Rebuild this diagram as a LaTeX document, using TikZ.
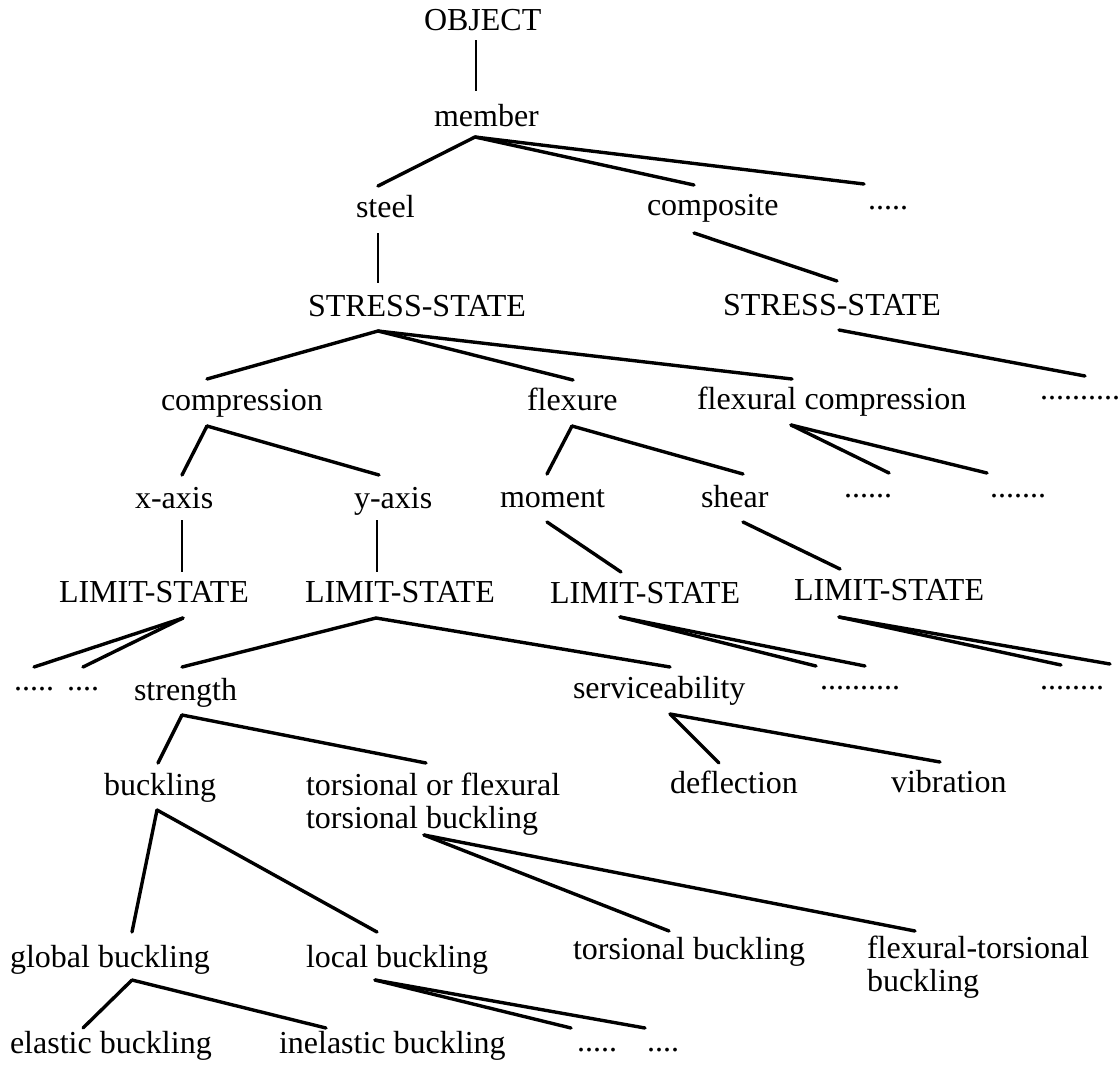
\documentclass[tikz,border=0pt]{standalone}
\usepackage{fontspec}
\setmainfont{Liberation Serif}
\begin{document}
\begin{tikzpicture}[x=1pt,y=-1pt,
  lbl/.style={inner sep=0pt, outer sep=0pt, anchor=base west,
              font=\fontsize{32}{33}\selectfont},
  branch/.style={line width=3.4pt, line cap=round},
  stem/.style={line width=2.5pt}]
\useasboundingbox (0,0) rectangle (1119,1066);

% ---------- labels (left edge, baseline) ----------
\node[lbl] (object)      at (424,30)   {OBJECT};
\node[lbl] (member)      at (434,126)  {member};
\node[lbl] (steel)       at (356,217)  {steel};
\node[lbl] (composite)   at (647,215)  {composite};
\node[lbl] (dotsA)       at (868,209)  {.....};
\node[lbl] (ssA)         at (308,316)  {STRESS-STATE};
\node[lbl] (ssB)         at (723,315)  {STRESS-STATE};
\node[lbl] (compression) at (161,410)  {compression};
\node[lbl] (flexure)     at (527,410)  {flexure};
\node[lbl] (flexcomp)    at (697,409)  {flexural compression};
\node[lbl] (dotsB)       at (1040,399) {..........};
\node[lbl] (xaxis)       at (135,508)  {x-axis};
\node[lbl] (yaxis)       at (354,508)  {y-axis};
\node[lbl] (moment)      at (500,507)  {moment};
\node[lbl] (shear)       at (701,507)  {shear};
\node[lbl] (dotsC)       at (844,497)  {......};
\node[lbl] (dotsD)       at (990,497)  {.......};
\node[lbl] (lsA)         at (59,602)   {LIMIT-STATE};
\node[lbl] (lsB)         at (305,602)  {LIMIT-STATE};
\node[lbl] (lsC)         at (550,603)  {LIMIT-STATE};
\node[lbl] (lsD)         at (794,600)  {LIMIT-STATE};
\node[lbl] (dotsE)       at (14,690)   {.....};
\node[lbl] (dotsF)       at (67,690)   {....};
\node[lbl] (strength)    at (134,700)  {strength};
\node[lbl] (service)     at (573,698)  {serviceability};
\node[lbl] (dotsG)       at (820,689)  {..........};
\node[lbl] (dotsH)       at (1040,689) {........};
\node[lbl] (buckling)    at (104,795)  {buckling};
\node[lbl] (tofA)        at (306,795)  {torsional or flexural};
\node[lbl] (tofB)        at (306,828)  {torsional buckling};
\node[lbl] (deflection)  at (670,793)  {deflection};
\node[lbl] (vibration)   at (891,792)  {vibration};
\node[lbl] (globalb)     at (10,967)   {global buckling};
\node[lbl] (localb)      at (306,967)  {local buckling};
\node[lbl] (torsb)       at (573,959)  {torsional buckling};
\node[lbl] (ftA)         at (867,958)  {flexural-torsional};
\node[lbl] (ftB)         at (867,991)  {buckling};
\node[lbl] (elastic)     at (10,1053)  {elastic buckling};
\node[lbl] (inelastic)   at (279,1053) {inelastic buckling};
\node[lbl] (dotsI)       at (577,1051) {.....};
\node[lbl] (dotsJ)       at (647,1051) {....};

% ---------- branch points and line ends ----------
\coordinate (object-b)   at (476,40);
\coordinate (member-t)   at (476,91);
\coordinate (member-b)   at (475,137);
\coordinate (steel-t)    at (378,186);
\coordinate (compo-t)    at (694,185);
\coordinate (dotsA-t)    at (864,184);
\coordinate (steel-b)    at (378,233);
\coordinate (ssA-t)      at (378,283);
\coordinate (compo-b)    at (694,233);
\coordinate (ssB-t)      at (837,281);
\coordinate (ssA-b)      at (378,331);
\coordinate (compr-t)    at (207,379);
\coordinate (flex-t)     at (573,380);
\coordinate (fc-t)       at (792,379);
\coordinate (ssB-b)      at (839,330);
\coordinate (dotsB-t)    at (1085,376);
\coordinate (compr-b)    at (207,426);
\coordinate (xaxis-t)    at (182,475);
\coordinate (yaxis-t)    at (379,475);
\coordinate (flex-b)     at (572,426);
\coordinate (moment-t)   at (547,474);
\coordinate (shear-t)    at (743,474);
\coordinate (fc-b)       at (791,425);
\coordinate (dotsC-t)    at (889,473);
\coordinate (dotsD-t)    at (987,473);
\coordinate (xaxis-b)    at (182,520);
\coordinate (lsA-t)      at (182,572);
\coordinate (yaxis-b)    at (377,520);
\coordinate (lsB-t)      at (377,572);
\coordinate (moment-b)   at (547,522);
\coordinate (lsC-t)      at (621,572);
\coordinate (shear-b)    at (743,522);
\coordinate (lsD-t)      at (840,569);
\coordinate (lsA-b)      at (183,618);
\coordinate (dotsE-t)    at (34,667);
\coordinate (dotsF-t)    at (83,667);
\coordinate (lsB-b)      at (376,618);
\coordinate (strength-t) at (182,667);
\coordinate (service-t)  at (670,667);
\coordinate (lsC-b)      at (620,617);
\coordinate (lsC-x)      at (816,666);
\coordinate (dotsG-t)    at (865,666);
\coordinate (lsD-b)      at (839,617);
\coordinate (lsD-x)      at (1061,665);
\coordinate (dotsH-t)    at (1110,664);
\coordinate (strength-b) at (182,715);
\coordinate (buckling-t) at (158,763);
\coordinate (tof-t)      at (426,763);
\coordinate (service-b)  at (670,714);
\coordinate (deflect-t)  at (719,763);
\coordinate (vibra-t)    at (940,762);
\coordinate (buckling-b) at (157,810);
\coordinate (globalb-t)  at (132,932);
\coordinate (localb-t)   at (377,932);
\coordinate (tof-b)      at (424,835);
\coordinate (torsb-t)    at (669,931);
\coordinate (ft-t)       at (915,931);
\coordinate (globalb-b)  at (132,980);
\coordinate (elastic-t)  at (83,1028);
\coordinate (inelast-t)  at (326,1028);
\coordinate (localb-b)   at (375,980);
\coordinate (dotsI-t)    at (571,1028);
\coordinate (dotsJ-t)    at (645,1028);

% ---------- connectors ----------
\draw[stem] (object-b) -- (member-t);
\draw[branch] (member-b) -- (steel-t);
\draw[branch] (member-b) -- (compo-t);
\draw[branch] (member-b) -- (dotsA-t);
\draw[stem] (steel-b) -- (ssA-t);
\draw[branch] (compo-b) -- (ssB-t);
\draw[branch] (ssA-b) -- (compr-t);
\draw[branch] (ssA-b) -- (flex-t);
\draw[branch] (ssA-b) -- (fc-t);
\draw[branch] (ssB-b) -- (dotsB-t);
\draw[branch] (compr-b) -- (xaxis-t);
\draw[branch] (compr-b) -- (yaxis-t);
\draw[branch] (flex-b) -- (moment-t);
\draw[branch] (flex-b) -- (shear-t);
\draw[branch] (fc-b) -- (dotsC-t);
\draw[branch] (fc-b) -- (dotsD-t);
\draw[stem] (xaxis-b) -- (lsA-t);
\draw[stem] (yaxis-b) -- (lsB-t);
\draw[branch] (moment-b) -- (lsC-t);
\draw[branch] (shear-b) -- (lsD-t);
\draw[branch] (lsA-b) -- (dotsE-t);
\draw[branch] (lsA-b) -- (dotsF-t);
\draw[branch] (lsB-b) -- (strength-t);
\draw[branch] (lsB-b) -- (service-t);
\draw[branch] (lsC-b) -- (lsC-x);
\draw[branch] (lsC-b) -- (dotsG-t);
\draw[branch] (lsD-b) -- (lsD-x);
\draw[branch] (lsD-b) -- (dotsH-t);
\draw[branch] (strength-b) -- (buckling-t);
\draw[branch] (strength-b) -- (tof-t);
\draw[branch] (service-b) -- (deflect-t);
\draw[branch] (service-b) -- (vibra-t);
\draw[branch] (buckling-b) -- (globalb-t);
\draw[branch] (buckling-b) -- (localb-t);
\draw[branch] (tof-b) -- (torsb-t);
\draw[branch] (tof-b) -- (ft-t);
\draw[branch] (globalb-b) -- (elastic-t);
\draw[branch] (globalb-b) -- (inelast-t);
\draw[branch] (localb-b) -- (dotsI-t);
\draw[branch] (localb-b) -- (dotsJ-t);
\end{tikzpicture}
\end{document}
